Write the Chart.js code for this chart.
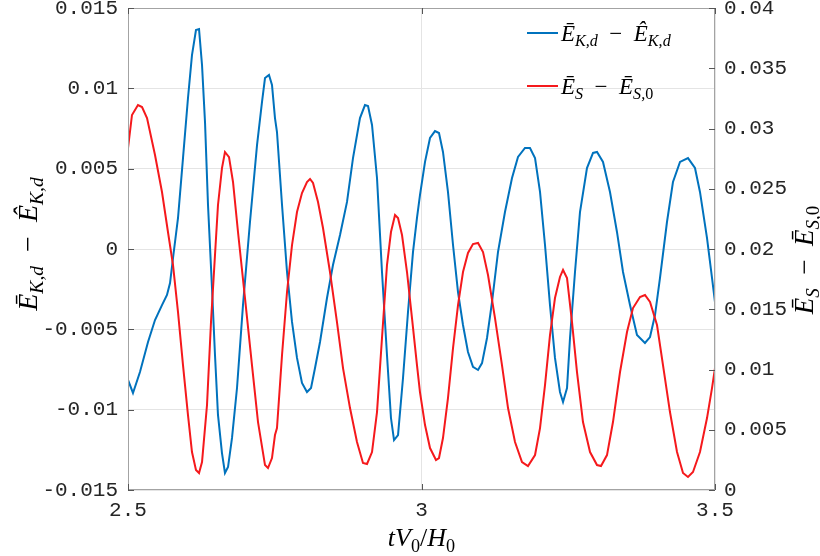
<!DOCTYPE html>
<html lang="en">
<head>
<meta charset="UTF-8">
<title>Energy differences vs tV0/H0</title>
<style>
  body { margin: 0; background: #fff; }
  canvas { display: block; }
</style>
</head>
<body>
<canvas id="chart" width="820" height="556"></canvas>

<script src="https://cdn.jsdelivr.net/npm/chart.js"></script>
<script>
// tick values
const xTicks = [2.5, 3, 3.5];
const leftTicks = [-0.015, -0.01, -0.005, 0, 0.005, 0.01, 0.015];
const rightTicks = [0, 0.005, 0.01, 0.015, 0.02, 0.025, 0.03, 0.035, 0.04];

// blue series, left axis: E_K,d bar - E_K,d hat
const blueX = [2.500,2.5085,2.5204,2.5341,2.546,2.5579,2.5664,2.5716,2.5767,2.5852,
  2.5937,2.6022,2.609,2.6158,2.621,2.6261,2.6312,2.6363,2.6431,2.6482,
  2.6533,2.6601,2.6652,2.6704,2.6772,2.6857,2.6959,2.7078,2.7198,2.7283,
  2.7334,2.7402,2.7453,2.7504,2.7538,2.7624,2.7709,2.7794,2.7879,2.7964,
  2.8049,2.8118,2.8186,2.8271,2.839,2.8492,2.8612,2.8731,2.8833,2.8952,
  2.9037,2.9089,2.9157,2.9242,2.9327,2.9412,2.948,2.9532,2.96,2.9685,
  2.977,2.9855,2.9923,2.9974,3.006,3.0145,3.023,3.0298,3.0366,3.0451,
  3.0537,3.0622,3.0707,3.0792,3.0877,3.0963,3.1031,3.1116,3.1201,3.1303,
  3.1422,3.1542,3.1644,3.1763,3.1848,3.1934,3.2019,3.2104,3.2189,3.2274,
  3.2359,3.2411,3.2479,3.253,3.2615,3.27,3.2819,3.2922,3.299,3.3092,
  3.3211,3.333,3.3433,3.3552,3.3671,3.3807,3.3893,3.3978,3.4063,3.4182,
  3.4284,3.4404,3.454,3.4659,3.4744,3.4864,3.4949,3.5];
const blueY = [-0.00815,-0.00896,-0.00766,-0.00579,-0.00442,-0.00349,-0.00286,-0.00212,-0.00056,0.00193,
  0.00566,0.0094,0.01207,0.01363,0.01369,0.01145,0.0079,0.00274,-0.00243,-0.0066,
  -0.01033,-0.0127,-0.01394,-0.01357,-0.01176,-0.00865,-0.00349,0.00168,0.00647,0.00915,
  0.01064,0.01083,0.01021,0.00815,0.00728,0.00274,-0.00143,-0.00454,-0.00678,-0.00834,
  -0.0089,-0.00865,-0.00741,-0.00579,-0.00305,-0.001,0.00087,0.00293,0.00566,0.00815,
  0.00896,0.0089,0.00772,0.00442,-0.00143,-0.0066,-0.01052,-0.01189,-0.01158,-0.00803,
  -0.00392,-0.00019,0.00193,0.00336,0.00542,0.00691,0.00734,0.00722,0.00604,0.00355,
  0.00025,-0.00268,-0.00473,-0.00641,-0.00734,-0.00753,-0.0071,-0.00554,-0.0033,-0.00019,
  0.0023,0.00442,0.00573,0.00629,0.00629,0.00566,0.00355,0.00025,-0.00349,-0.00678,
  -0.0089,-0.00952,-0.00865,-0.00554,-0.00143,0.0023,0.00504,0.00598,0.00604,0.00542,
  0.00355,0.00106,-0.00143,-0.00349,-0.00535,-0.00585,-0.00548,-0.00411,-0.0018,0.00168,
  0.00417,0.00542,0.00566,0.00504,0.00355,0.00068,-0.0018,-0.0033];

// red series, right axis: E_S bar - E_S,0 bar
const redX = [2.5,2.5068,2.517,2.5239,2.5324,2.546,2.5579,2.5681,2.5767,2.5852,
  2.5937,2.6022,2.609,2.6158,2.621,2.6261,2.6346,2.6414,2.6482,2.6533,
  2.6601,2.6652,2.6721,2.6789,2.6874,2.6993,2.7112,2.7215,2.7334,2.7385,
  2.7453,2.7504,2.7538,2.7624,2.7709,2.7794,2.7879,2.7964,2.8049,2.8101,
  2.8152,2.8237,2.8322,2.8441,2.856,2.8663,2.8782,2.8901,2.9003,2.9072,
  2.9157,2.9242,2.9327,2.9412,2.948,2.9549,2.96,2.9668,2.9753,2.9838,
  2.9923,2.9974,3.006,3.0145,3.0247,3.0298,3.0366,3.0451,3.0537,3.0622,
  3.0707,3.0792,3.0877,3.0963,3.1048,3.1133,3.1252,3.1371,3.1474,3.1593,
  3.1712,3.1814,3.1934,3.2019,3.2104,3.2189,3.2274,3.2359,3.2411,3.2479,
  3.2564,3.2649,3.2751,3.2871,3.299,3.3058,3.316,3.3262,3.3382,3.3501,
  3.3603,3.3722,3.3807,3.3893,3.4012,3.4114,3.4233,3.4353,3.4455,3.454,
  3.4625,3.4744,3.4864,3.4949,3.5];
const redY = [0.02838,0.03112,0.03195,0.03178,0.03087,0.0278,0.02473,0.02141,0.01867,0.01477,
  0.01037,0.00622,0.00315,0.00166,0.00141,0.00232,0.00705,0.01394,0.0195,0.02365,
  0.02672,0.02805,0.02763,0.02556,0.02141,0.01593,0.01037,0.00564,0.00207,0.00182,
  0.00265,0.00456,0.00514,0.0112,0.01643,0.02033,0.02307,0.02465,0.02556,0.02581,
  0.02548,0.0239,0.02174,0.01809,0.01394,0.01012,0.0068,0.00398,0.00224,0.00216,
  0.00315,0.00647,0.01261,0.01867,0.02141,0.02282,0.02257,0.02116,0.01809,0.01427,
  0.01037,0.00813,0.00539,0.00348,0.00249,0.00265,0.00431,0.00763,0.01178,0.01535,
  0.01809,0.01967,0.02041,0.0205,0.01975,0.01784,0.01427,0.01037,0.0068,0.00398,
  0.00232,0.00199,0.0029,0.00514,0.00871,0.01286,0.01593,0.01768,0.01826,0.01759,
  0.01394,0.00979,0.00564,0.00315,0.00207,0.00199,0.0029,0.00564,0.00979,0.01311,
  0.0151,0.01602,0.01618,0.0156,0.01369,0.01037,0.00647,0.00315,0.00141,0.00108,
  0.00149,0.00315,0.00597,0.00846,0.01012];

// labels as [text, style]; style: i = italic, n = upright, si/sn = subscript
const blueName = [['Ē','i'],['K,d','si'],['\u2002−\u2002','n'],['Ê','i'],['K,d','si']];
const redName = [['Ē','i'],['S','si'],['\u2002−\u2002','n'],['Ē','i'],['S,','si'],['0','sn']];
const xName = [['tV','i'],['0','sn'],['/','n'],['H','i'],['0','sn']];

const BLUE = '#0072bd';
const RED = '#f5191c';
const tickFont = { family: '"Liberation Mono", "DejaVu Sans Mono", monospace', size: 21 };
const serif = '"Liberation Serif", "DejaVu Serif", serif';

function fmt(v) { return String(Number(v.toFixed(4))); }

function partFont(p, size) {
  const sub = p[1][0] === 's' && p[1].length === 2;
  const ital = p[1] === 'i' || p[1] === 'si';
  return (ital ? 'italic ' : '') + (sub ? size * 0.7 : size) + 'px ' + serif;
}

// draws mixed text with subscripts, align 'center' or 'left'
function drawRich(ctx, parts, size, x, y, rot, align) {
  ctx.save();
  ctx.translate(x, y);
  ctx.rotate(rot || 0);
  ctx.fillStyle = '#000';
  ctx.textBaseline = 'alphabetic';
  ctx.textAlign = 'left';
  let w = 0;
  parts.forEach(p => { ctx.font = partFont(p, size); w += ctx.measureText(p[0]).width; });
  let cx = align === 'left' ? 0 : -w / 2;
  parts.forEach(p => {
    ctx.font = partFont(p, size);
    const sub = p[1][0] === 's' && p[1].length === 2;
    ctx.fillText(p[0], cx, sub ? size * 0.22 : 0);
    cx += ctx.measureText(p[0]).width;
  });
  ctx.restore();
}

// keep chart area fixed: no extra room for overhanging tick labels
function noOverhang(s) {
  s.paddingTop = 0; s.paddingBottom = 0; s.paddingLeft = 0; s.paddingRight = 0;
}

const decor = {
  id: 'decor',
  afterDraw(chart) {
    const { ctx, chartArea: a, scales } = chart;
    ctx.save();
    // box
    ctx.strokeStyle = '#a3a3a3';
    ctx.lineWidth = 1;
    ctx.strokeRect(a.left + 0.5, a.top + 0.5, a.right - a.left - 1, a.bottom - a.top - 1);
    // inward ticks
    ctx.strokeStyle = '#555';
    ctx.beginPath();
    leftTicks.forEach(v => {
      const y = Math.round(scales.yL.getPixelForValue(v)) + 0.5;
      ctx.moveTo(a.left, y); ctx.lineTo(a.left + 6, y);
    });
    rightTicks.forEach(v => {
      const y = Math.round(scales.yR.getPixelForValue(v)) + 0.5;
      ctx.moveTo(a.right - 6, y); ctx.lineTo(a.right, y);
    });
    xTicks.forEach(v => {
      const x = Math.round(scales.x.getPixelForValue(v)) + 0.5;
      ctx.moveTo(x, a.bottom); ctx.lineTo(x, a.bottom - 6);
      ctx.moveTo(x, a.top); ctx.lineTo(x, a.top + 6);
    });
    ctx.stroke();

    // legend
    const lx = a.right - 188;
    [[blueName, BLUE, a.top + 25], [redName, RED, a.top + 78]].forEach(([name, col, y]) => {
      ctx.strokeStyle = col;
      ctx.lineWidth = 2;
      ctx.beginPath();
      ctx.moveTo(lx, y); ctx.lineTo(lx + 31, y);
      ctx.stroke();
      drawRich(ctx, name, 23, lx + 34, y + 8, 0, 'left');
    });

    // axis titles
    drawRich(ctx, blueName, 28, 37, 244, -Math.PI / 2);
    drawRich(ctx, redName, 27, 813, 260, -Math.PI / 2);
    drawRich(ctx, xName, 26, (a.left + a.right) / 2, 546, 0);
    ctx.restore();
  }
};

new Chart(document.getElementById('chart'), {
  type: 'line',
  data: {
    datasets: [
      {
        label: 'E_S - E_S0',
        data: redX.map((x, i) => ({ x, y: redY[i] })),
        yAxisID: 'yR',
        borderColor: RED,
        borderWidth: 2,
        pointRadius: 0,
        tension: 0,
        order: 0
      },
      {
        label: 'E_Kd bar - E_Kd hat',
        data: blueX.map((x, i) => ({ x, y: blueY[i] })),
        yAxisID: 'yL',
        borderColor: BLUE,
        borderWidth: 2,
        pointRadius: 0,
        tension: 0,
        order: 1
      }
    ]
  },
  options: {
    responsive: false,
    animation: false,
    layout: { padding: { top: 8, left: 0, right: 0, bottom: 0 } },
    plugins: { legend: { display: false }, tooltip: { enabled: false } },
    scales: {
      x: {
        type: 'linear', min: 2.5, max: 3.5,
        afterBuildTicks: s => { s.ticks = xTicks.map(v => ({ value: v })); },
        afterFit: s => { s.height = 66; noOverhang(s); },
        grid: { color: '#e4e4e4', drawTicks: false },
        border: { display: false },
        ticks: { font: tickFont, color: '#262626', padding: 8, maxRotation: 0, callback: v => fmt(v) }
      },
      yL: {
        position: 'left', min: -0.015, max: 0.015,
        afterBuildTicks: s => { s.ticks = leftTicks.map(v => ({ value: v })); },
        afterFit: s => { s.width = 128; noOverhang(s); },
        grid: { color: '#e4e4e4', drawTicks: false },
        border: { display: false },
        ticks: { font: tickFont, color: '#262626', padding: 10, callback: v => fmt(v) }
      },
      yR: {
        position: 'right', min: 0, max: 0.04,
        afterBuildTicks: s => { s.ticks = rightTicks.map(v => ({ value: v })); },
        afterFit: s => { s.width = 105; noOverhang(s); },
        grid: { display: false, drawTicks: false },
        border: { display: false },
        ticks: { font: tickFont, color: '#262626', padding: 9, callback: v => fmt(v) }
      }
    }
  },
  plugins: [decor]
});
</script>
</body>
</html>
